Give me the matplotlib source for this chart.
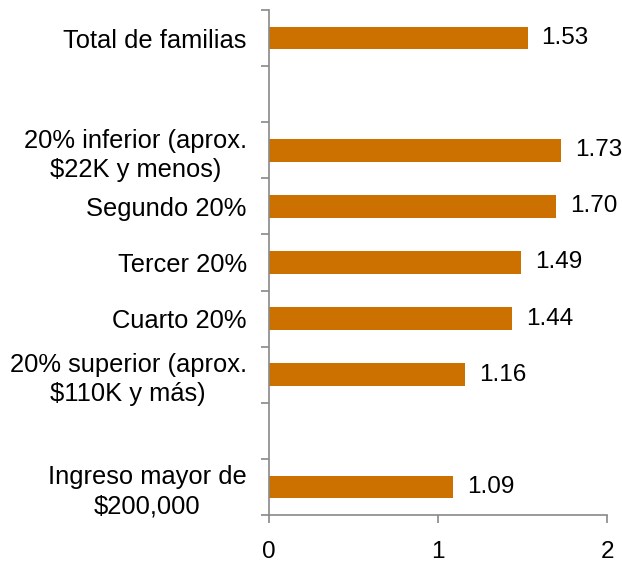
import matplotlib
matplotlib.use("Agg")
import matplotlib.pyplot as plt
import numpy as np

plt.rcParams['font.family'] = ['Liberation Sans', 'DejaVu Sans']

categories = [
    "Total de familias",
    "",
    "20% inferior (aprox.\n$22K y menos)",
    "Segundo 20%",
    "Tercer 20%",
    "Cuarto 20%",
    "20% superior (aprox.\n$110K y más)",
    "",
    "Ingreso mayor de\n$200,000",
]
values = [1.53, None, 1.73, 1.70, 1.49, 1.44, 1.16, None, 1.09]
value_labels = ["1.53", "", "1.73", "1.70", "1.49", "1.44", "1.16", "", "1.09"]
x_ticks = [0, 1, 2]

bar_color = "#CC7000"
axis_color = "#898989"
fs_cat = 18.4
fs_val = 17.5

fig = plt.figure(figsize=(6.22, 5.65), dpi=100)
ax = fig.add_axes([269/622, 1 - 515/565, (607-269)/622, (515-10)/565])

n = len(categories)
pos = np.arange(n)
for i, (v, lab) in enumerate(zip(values, value_labels)):
    if v is None:
        continue
    ax.barh(pos[i], v, height=0.4, color=bar_color)
    ax.annotate(lab, xy=(v, pos[i]), xytext=(10, 0), textcoords='offset points',
                ha='left', va='center', fontsize=fs_val, color='#000000')

ax.set_xlim(0, 2)
ax.set_ylim(n - 0.5, -0.5)
ax.set_xticks(x_ticks)
ax.set_xticklabels([str(t) for t in x_ticks], fontsize=fs_val)

ax.set_yticks(pos)
ax.set_yticklabels(categories, fontsize=fs_cat)
for t in ax.get_yticklabels():
    t.set_multialignment('center')
    t.set_linespacing(1.25)
ax.tick_params(axis='y', which='major', length=0, pad=16)
ax.set_yticks(np.arange(-0.5, n + 0.5, 1), minor=True)
ax.tick_params(axis='y', which='minor', length=6, color=axis_color, width=1.2)
ax.tick_params(axis='x', which='major', length=6, color=axis_color, width=1.2, pad=13)

for s in ['top', 'right']:
    ax.spines[s].set_visible(False)
for s in ['left', 'bottom']:
    ax.spines[s].set_color(axis_color)
    ax.spines[s].set_linewidth(1.2)

fig.savefig("out.png", dpi=100)
